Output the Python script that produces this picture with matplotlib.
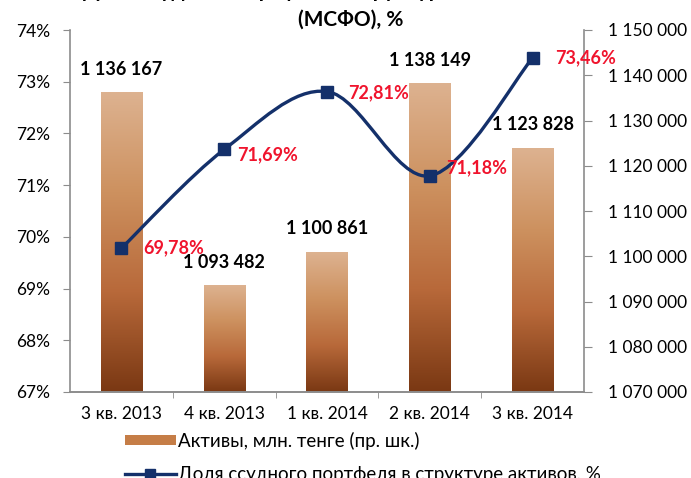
import numpy as np
import matplotlib
matplotlib.use('Agg')
import matplotlib.pyplot as plt
from matplotlib.path import Path
from matplotlib.patches import PathPatch, Patch
from matplotlib.lines import Line2D
from matplotlib.colors import LinearSegmentedColormap
from matplotlib.ticker import FuncFormatter, MultipleLocator

plt.rcParams['font.family'] = ['Lato', 'Noto Sans', 'DejaVu Sans']

quarters = ['3 кв. 2013', '4 кв. 2013', '1 кв. 2014', '2 кв. 2014', '3 кв. 2014']
assets = [1136167, 1093482, 1100861, 1138149, 1123828]
loan_share = [69.78, 71.69, 72.81, 71.18, 73.46]
share_labels = ['69,78%', '71,69%', '72,81%', '71,18%', '73,46%']
# label offsets (points) next to the markers
share_offsets = [(16, 0), (9, -4), (15, -1), (12, 6), (16, 0)]

title_top = 'Доля ссудного портфеля в структуре активов банков'
title_bottom = '(МСФО), %'
legend_bar = 'Активы, млн. тенге (пр. шк.)'
legend_line = 'Доля ссудного портфеля в структуре активов, %'

line_col = '#14306a'
red = '#f0142d'
spine_col = '#8c8c8c'

fig = plt.figure(figsize=(6.91, 4.78), dpi=100)
ax = fig.add_axes([70 / 691, 1 - 392 / 478, 514 / 691, 362 / 478])
ax2 = ax.twinx()
ax.set_zorder(ax2.get_zorder() + 1)
ax.patch.set_visible(False)

x = np.arange(len(quarters))
bw = 0.4
ymin2, ymax2 = 1070000, 1150000
cmap = LinearSegmentedColormap.from_list('bar', ['#7a3813', '#b8693a', '#cd915f', '#ddb290'])
grad = np.linspace(0, 1, 256).reshape(-1, 1)
for xi, v in zip(x, assets):
    ax2.imshow(grad, cmap=cmap, origin='lower', aspect='auto',
               extent=[xi - bw / 2, xi + bw / 2, ymin2, v], zorder=1)
    ax2.text(xi, v + 3300, f'{v:,}'.replace(',', ' '), ha='center', va='bottom',
             fontsize=13, fontweight='bold', color='black')

ax2.set_xlim(-0.5, len(quarters) - 0.5)
ax2.set_ylim(ymin2, ymax2)
ax2.yaxis.set_major_locator(MultipleLocator(10000))
ax2.yaxis.set_major_formatter(FuncFormatter(lambda v, p: f'{int(v):,}'.replace(',', ' ')))

# smoothed line (Excel-like cubic Bezier)
pts = np.column_stack([x, loan_share]).astype(float)
ext = np.vstack([pts[0], pts, pts[-1]])
verts = [tuple(pts[0])]
codes = [Path.MOVETO]
for i in range(len(pts) - 1):
    p0, p1, p2, p3 = ext[i], ext[i + 1], ext[i + 2], ext[i + 3]
    c1 = p1 + (p2 - p0) / 6
    c2 = p2 - (p3 - p1) / 6
    verts += [tuple(c1), tuple(c2), tuple(p2)]
    codes += [Path.CURVE4] * 3
ax.add_patch(PathPatch(Path(verts, codes), facecolor='none', edgecolor=line_col,
                       lw=2.4, zorder=3, capstyle='round'))
ax.plot(x, loan_share, ls='none', marker='s', ms=9, color=line_col, zorder=4)
for xi, v, lab, off in zip(x, loan_share, share_labels, share_offsets):
    ax.annotate(lab, (xi, v), xytext=off, textcoords='offset points', ha='left',
                va='center', fontsize=13, fontweight='bold', color=red, zorder=5)

ax.set_xlim(-0.5, len(quarters) - 0.5)
ax.set_ylim(67, 74)
ax.yaxis.set_major_locator(MultipleLocator(1))
ax.yaxis.set_major_formatter(FuncFormatter(lambda v, p: f'{int(round(v))}%'))
ax.set_xticks(x)
ax.set_xticklabels(quarters)
ax.set_xticks(np.arange(0.5, len(quarters) - 1, 1), minor=True)
ax.tick_params(axis='x', which='major', length=0, pad=10, labelsize=12.5)
ax.tick_params(axis='x', which='minor', length=4, color=spine_col)
ax.tick_params(axis='y', length=5, pad=9, labelsize=12.5, color=spine_col)
ax2.tick_params(axis='y', length=6, pad=11, labelsize=12.5, color=spine_col)

for a in (ax, ax2):
    a.spines['top'].set_visible(False)
    for s in ('left', 'right', 'bottom'):
        a.spines[s].set_color(spine_col)
        a.spines[s].set_linewidth(1.2)
ax.spines['right'].set_visible(False)
ax2.spines['left'].set_visible(False)

handles = [Patch(facecolor='#c57d47', edgecolor='none'),
           Line2D([], [], color=line_col, lw=2.4, marker='s', ms=7)]
fig.legend(handles, [legend_bar, legend_line], loc='upper left',
           bbox_to_anchor=(125 / 691, 1 - 432 / 478), frameon=False, fontsize=13.5,
           handlelength=2.7, handleheight=0.45, handletextpad=0.15, labelspacing=0.85,
           borderpad=0, borderaxespad=0)

fig.text(0.508, 1 - 20 / 478, title_bottom, ha='center', va='center',
         fontsize=15, fontweight='bold')
fig.text(0.50, 1 + 9 / 478, title_top, ha='center', va='center',
         fontsize=15, fontweight='bold')

fig.savefig('out.png', dpi=100)
